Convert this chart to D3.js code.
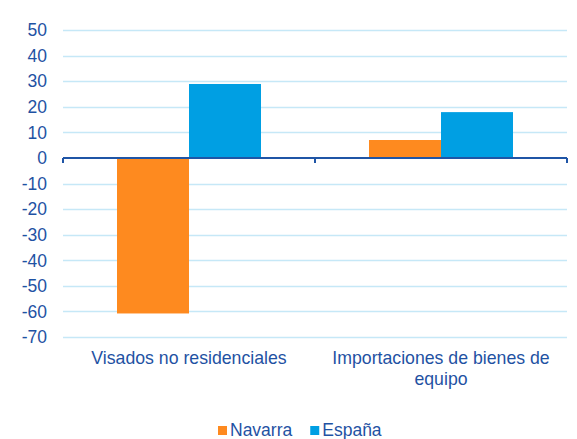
<!DOCTYPE html>
<html>
<head>
<meta charset="utf-8">
<script src="https://cdn.jsdelivr.net/npm/d3@7"></script>
<style>
  body { margin: 0; background: #fff; }
  text { font-family: "Liberation Sans", Arial, sans-serif; fill: #1f52a3; }
</style>
</head>
<body>
<div id="chart"></div>
<script>
// data
var categories = ["Visados no residenciales", "Importaciones de bienes de equipo"];
var series = ["Navarra", "España"];
var navarra = [-60.8, 7.0];
var espana = [28.9, 17.9];
var yTicks = [50, 40, 30, 20, 10, 0, -10, -20, -30, -40, -50, -60, -70];
var colors = ["#fe8a1f", "#009fe3"];

var W = 577, H = 439;
var margin = {t:30, r:10, b:102, l:63};

var svg = d3.select('#chart').append('svg')
    .attr('width', W).attr('height', H);

var x = d3.scaleBand().domain(categories)
    .range([margin.l, W - margin.r]);
var x1 = d3.scaleBand().domain(series)
    .range([0, x.bandwidth()]).paddingInner(0).paddingOuter(0.75);
var y = d3.scaleLinear().domain([-70, 50])
    .range([H - margin.b, margin.t]);

// gridlines
svg.append('g').selectAll('line')
    .data(yTicks.filter(function(d){ return d !== 0; }))
    .enter().append('line')
    .attr('x1', margin.l).attr('x2', W - margin.r)
    .attr('y1', function(d){ return Math.round(y(d)) + 0.5; })
    .attr('y2', function(d){ return Math.round(y(d)) + 0.5; })
    .attr('stroke', '#c6e8f7').attr('stroke-width', 1.5);

// y tick labels
svg.append('g').selectAll('text')
    .data(yTicks).enter().append('text')
    .attr('x', 47).attr('y', function(d){ return y(d); })
    .attr('dy', '0.36em')
    .attr('text-anchor', 'end')
    .style('font-size', '17.5px')
    .text(function(d){ return d; });

// bars
var rows = categories.map(function(c, i){
    return [{s: series[0], c: c, v: navarra[i]}, {s: series[1], c: c, v: espana[i]}];
});
svg.append('g').selectAll('g')
    .data(rows).enter().append('g')
    .attr('transform', function(d){ return 'translate(' + x(d[0].c) + ',0)'; })
    .selectAll('rect')
    .data(function(d){ return d; }).enter().append('rect')
    .attr('x', function(d){ return x1(d.s); })
    .attr('width', x1.bandwidth())
    .attr('y', function(d){ return y(Math.max(0, d.v)); })
    .attr('height', function(d){ return Math.abs(y(d.v) - y(0)); })
    .attr('fill', function(d, i){ return colors[i]; });

// zero axis with category ticks
var y0 = y(0);
svg.append('line')
    .attr('x1', margin.l).attr('x2', W - margin.r)
    .attr('y1', y0).attr('y2', y0)
    .attr('stroke', '#1f55a6').attr('stroke-width', 2);
var tickXs = [margin.l, margin.l + x.step(), W - margin.r];
svg.append('g').selectAll('line')
    .data(tickXs).enter().append('line')
    .attr('x1', function(d){ return d; }).attr('x2', function(d){ return d; })
    .attr('y1', y0).attr('y2', y0 + 5)
    .attr('stroke', '#1f55a6').attr('stroke-width', 2);

// category labels (wrapped like the reference)
var catLines = [["Visados no residenciales"], ["Importaciones de bienes de", "equipo"]];
svg.append('g').selectAll('text')
    .data(categories).enter().append('text')
    .attr('text-anchor', 'middle')
    .attr('x', function(d){ return x(d) + x.bandwidth() / 2; })
    .attr('y', 364)
    .style('font-size', '17.7px')
    .each(function(d, i){
        var t = d3.select(this);
        catLines[i].forEach(function(line, j){
            t.append('tspan')
                .attr('x', x(d) + x.bandwidth() / 2)
                .attr('dy', j === 0 ? 0 : 21)
                .text(line);
        });
    });

// legend
var legend = svg.append('g').attr('transform', 'translate(218,422)');
series.forEach(function(s, i){
    var g = legend.append('g');
    g.append('rect').attr('width', 9).attr('height', 9).attr('y', 4).attr('fill', colors[i]);
    g.append('text').attr('x', 12).attr('y', 14)
        .style('font-size', '17.5px').text(s);
});
// place entries side by side from their text widths
var off = 0;
legend.selectAll('g').each(function(){
    var g = d3.select(this);
    g.attr('transform', 'translate(' + off + ',0)');
    off += 12 + g.select('text').node().getComputedTextLength() + 18;
});
</script>
</body>
</html>
